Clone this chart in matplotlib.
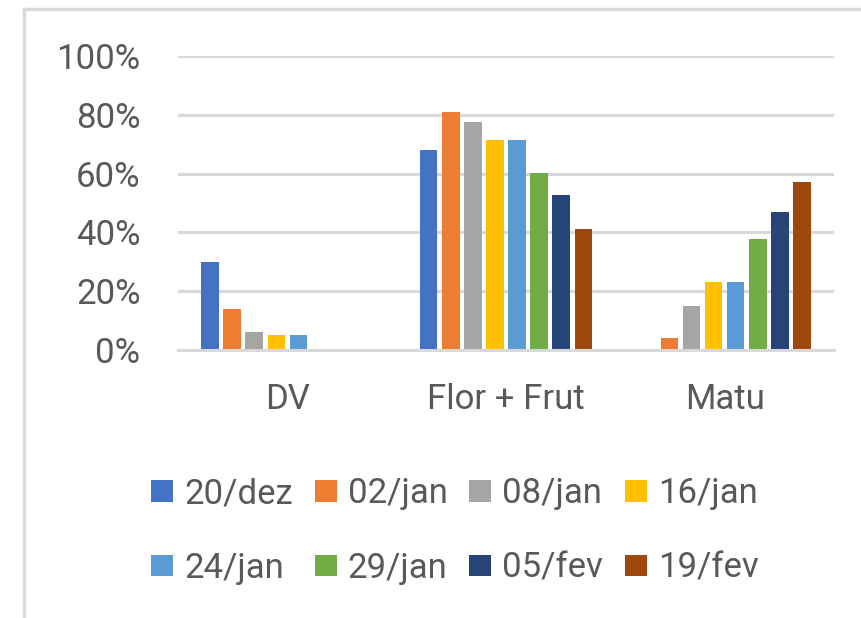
import matplotlib
matplotlib.use("Agg")
import matplotlib.pyplot as plt
from matplotlib.lines import Line2D
import numpy as np

categories = ["DV", "Flor + Frut", "Matu"]
series_labels = ["20/dez", "02/jan", "08/jan", "16/jan", "24/jan", "29/jan", "05/fev", "19/fev"]
dv = [0.30, 0.14, 0.06, 0.05, 0.05, 0.0, 0.0, 0.0]
flor_frut = [0.68, 0.81, 0.775, 0.715, 0.715, 0.603, 0.526, 0.41]
matu = [0.0, 0.04, 0.15, 0.23, 0.23, 0.376, 0.468, 0.57]
colors = ["#4472C4", "#ED7D31", "#A5A5A5", "#FFC000", "#5B9BD5", "#70AD47", "#264478", "#9E480E"]
yticks = [0, 0.2, 0.4, 0.6, 0.8, 1.0]
ytick_labels = ["0%", "20%", "40%", "60%", "80%", "100%"]

values = np.array([dv, flor_frut, matu]).T  # series x categories

plt.rcParams['font.family'] = ['Roboto', 'DejaVu Sans']
text_color = "#595959"
grid_color = "#D9D9D9"

fig = plt.figure(figsize=(8.62, 6.18), dpi=100)
ax = fig.add_axes([178/862, 1-350/618, (834-178)/862, (350-56)/618])

x = np.arange(len(categories))
n = len(series_labels)
slot = 0.101
bw = 0.08
bars = []
for i in range(n):
    b = ax.bar(x + (i - (n-1)/2) * slot, values[i], width=bw, color=colors[i],
               label=series_labels[i], zorder=3)
    bars.append(b)

ax.set_xlim(-0.5, len(categories) - 0.5)
ax.set_ylim(0, 1.0)
ax.set_yticks(yticks)
ax.set_yticklabels(ytick_labels)
ax.set_xticks(x)
ax.set_xticklabels(categories)
ax.tick_params(axis='both', length=0, colors=text_color, labelsize=25)
ax.tick_params(axis='y', pad=27)
ax.tick_params(axis='x', pad=24)
ax.yaxis.grid(True, color=grid_color, linewidth=2.2, zorder=0)
ax.set_axisbelow(True)
for s in ["top", "right", "left"]:
    ax.spines[s].set_visible(False)
ax.spines["bottom"].set_color(grid_color)
ax.spines["bottom"].set_linewidth(2.2)
ax.spines["bottom"].set_zorder(4)

# legend filled row by row (4 columns, 2 rows)
ncol = 4
order = [r * ncol + c for c in range(ncol) for r in range(2)]
leg = fig.legend([bars[k] for k in order], [series_labels[k] for k in order],
                 loc="center", bbox_to_anchor=(455/862, 1-531/618), ncol=ncol,
                 frameon=False, fontsize=25, handlelength=0.63, handleheight=0.58,
                 handletextpad=0.32, columnspacing=0.63, labelspacing=1.2,
                 labelcolor=text_color)

# chart area border (top and left visible)
fig.add_artist(Line2D([24/862, 24/862], [0, 1-9/618], transform=fig.transFigure,
                      color=grid_color, linewidth=2.4))
fig.add_artist(Line2D([24/862, 1], [1-9/618, 1-9/618], transform=fig.transFigure,
                      color=grid_color, linewidth=2.4))

fig.savefig("out.png", dpi=100, facecolor="white")
